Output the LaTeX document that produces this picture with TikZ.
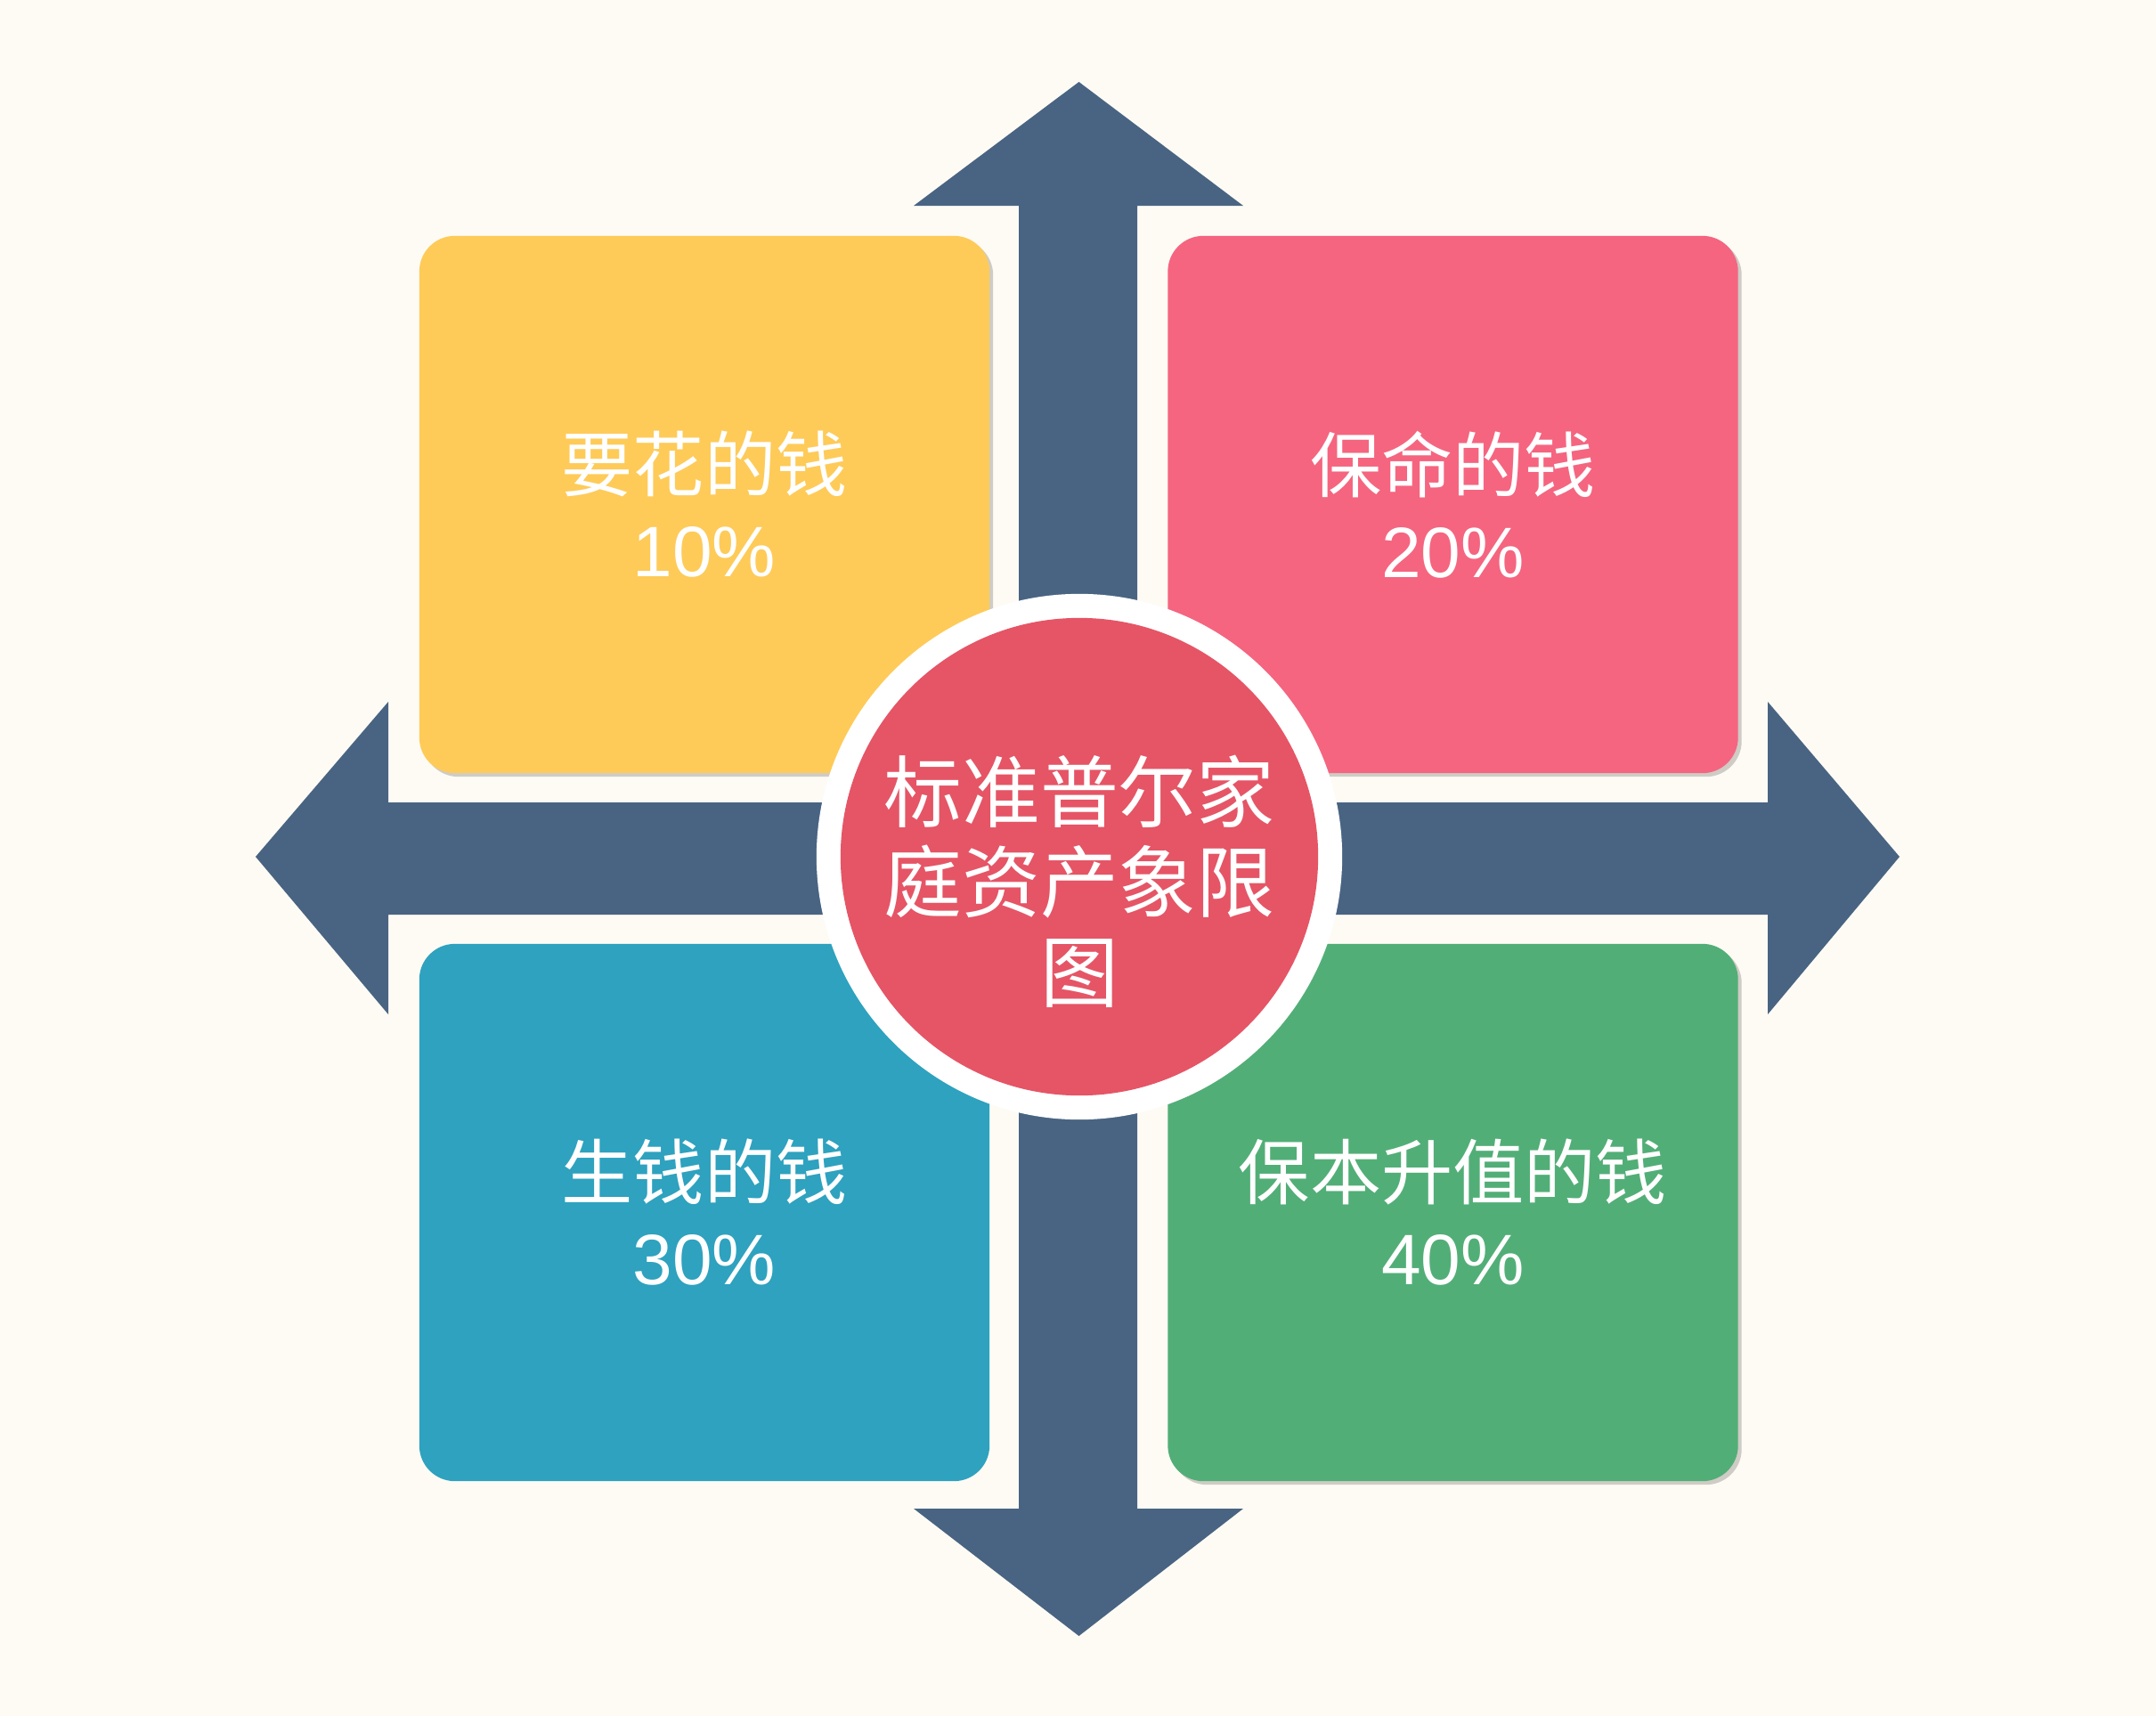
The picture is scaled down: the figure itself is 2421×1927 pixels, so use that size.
\documentclass[tikz,border=0pt]{standalone}
\usepackage{fontspec}
\setmainfont{Liberation Sans}
\newfontfamily\cjk{Noto Sans CJK SC}
\usepackage{tikz}
\usetikzlibrary{positioning}
\usetikzlibrary{shadows}
\definecolor{bgcream}{HTML}{FEFBF5}
\definecolor{arrowblue}{HTML}{496482}
\definecolor{spendyellow}{HTML}{FECB59}
\definecolor{guardpink}{HTML}{F56580}
\definecolor{earnblue}{HTML}{2EA2BF}
\definecolor{keepgreen}{HTML}{52AE77}
\definecolor{centrered}{HTML}{E55566}
\definecolor{shadowgray}{HTML}{CFCBC5}
\tikzset{quadbox/.style = {rectangle, rounded corners=0.4cm, text=white,
                           minimum width=6.4cm, minimum height=6.03cm,
                           align=center, inner sep=0pt,
                           font=\fontsize{22.8}{27.3}\selectfont}}
\tikzset{boxshadow/.style = {drop shadow={shadow xshift=0.04cm, shadow yshift=-0.04cm,
                                          fill=shadowgray, opacity=1}}}
\tikzset{bigarrow/.style = {fill=arrowblue, draw=none}}

\begin{document}
\begin{tikzpicture}[x=0.01cm, y=-0.01cm]
    \fill [bgcream] (0, 0) rectangle (2421, 1927);
    \useasboundingbox (0, 0) rectangle (2421, 1927);
    % the four quadrants
    \node [quadbox, boxshadow, fill=spendyellow] (spend) at (791, 566.5)
          {{\cjk 要花的钱}\\10\%};
    \node [quadbox, boxshadow, fill=guardpink] (guard) at (1631.5, 566.5)
          {{\cjk 保命的钱}\\20\%};
    \node [quadbox, fill=earnblue] (earn) at (791, 1361.5)
          {{\cjk 生钱的钱}\\30\%};
    \node [quadbox, boxshadow, fill=keepgreen] (keep) at (1631.5, 1361.5)
          {{\cjk 保本升值的钱}\\40\%};
    % the two double arrows
    \fill [bigarrow] (1211.5, 92) -- (1026, 231) -- (1144, 231) -- (1144, 1694)
          -- (1026, 1694) -- (1211.5, 1837) -- (1396, 1694) -- (1277, 1694)
          -- (1277, 231) -- (1396, 231) -- cycle;
    \fill [bigarrow] (287, 962) -- (436, 788) -- (436, 901) -- (1985, 901)
          -- (1985, 788) -- (2133, 962) -- (1985, 1139) -- (1985, 1027)
          -- (436, 1027) -- (436, 1139) -- cycle;
    % the centre
    \node [circle, fill=white, minimum size=5.9cm, inner sep=0pt] (ring) at (1212, 962) {};
    \node [circle, fill=centrered, minimum size=5.36cm, inner sep=0pt] (hub) at (ring.center) {};
    \node [text=white, align=center, font=\fontsize{25}{28.7}\selectfont\cjk]
          (title) at (1212, 990) {标准普尔家\\庭资产象限\\图};
  \end{tikzpicture}
\end{document}
